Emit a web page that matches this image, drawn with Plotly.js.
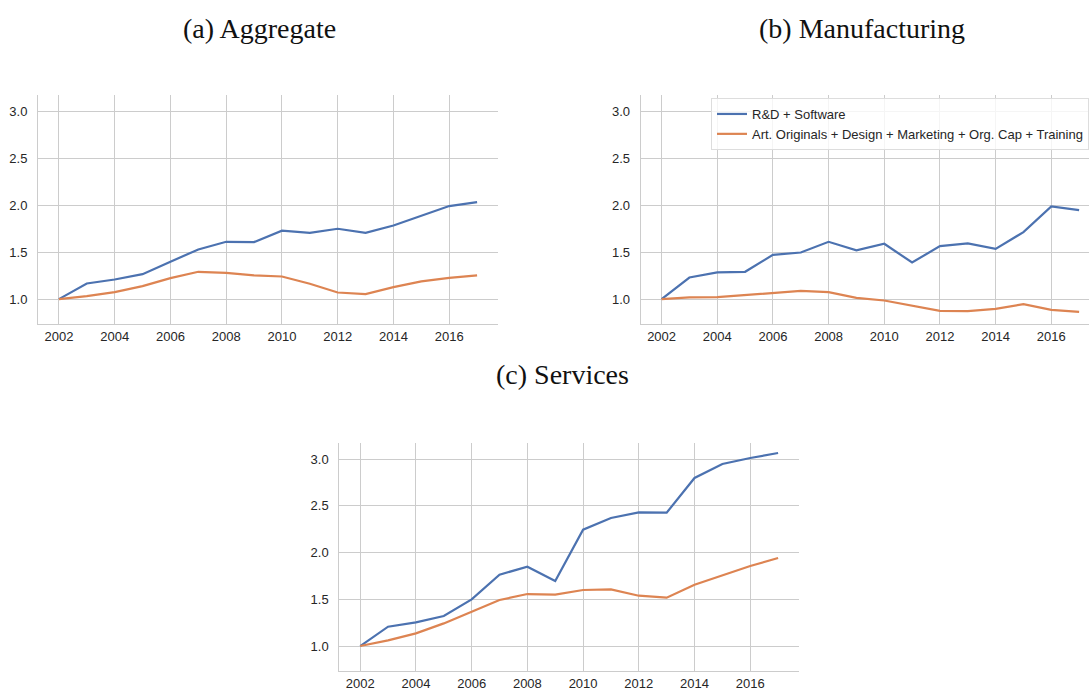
<!DOCTYPE html>
<html>
<head>
<meta charset="utf-8">
<script src="https://cdn.plot.ly/plotly-3.0.1.min.js"></script>
<style>
  html, body { margin: 0; padding: 0; overflow: hidden; background: #fff; }
  #chart { width: 1100px; height: 691px; }
</style>
</head>
<body>
<div id="chart"></div>
<script>
// years on the x axis
const years = [2002, 2003, 2004, 2005, 2006, 2007, 2008, 2009, 2010, 2011, 2012, 2013, 2014, 2015, 2016, 2017];

// (a) Aggregate
const aggRD = [1.0, 1.167, 1.21, 1.267, 1.40, 1.53, 1.612, 1.609, 1.73, 1.708, 1.751, 1.708, 1.786, 1.893, 1.993, 2.036];
const aggOther = [1.0, 1.032, 1.075, 1.139, 1.224, 1.292, 1.281, 1.253, 1.242, 1.164, 1.071, 1.053, 1.128, 1.189, 1.228, 1.253];

// (b) Manufacturing
const manRD = [1.0, 1.231, 1.285, 1.292, 1.473, 1.498, 1.612, 1.520, 1.591, 1.391, 1.566, 1.594, 1.537, 1.715, 1.989, 1.950];
const manOther = [1.0, 1.018, 1.021, 1.046, 1.064, 1.089, 1.075, 1.014, 0.986, 0.932, 0.875, 0.872, 0.897, 0.947, 0.886, 0.865];

// (c) Services
const serRD = [1.0, 1.207, 1.253, 1.321, 1.499, 1.763, 1.848, 1.695, 2.244, 2.369, 2.430, 2.426, 2.797, 2.947, 3.011, 3.064];
const serOther = [1.0, 1.061, 1.135, 1.242, 1.367, 1.492, 1.556, 1.549, 1.599, 1.606, 1.538, 1.517, 1.656, 1.756, 1.856, 1.941];

const seriesNames = ['R&D + Software', 'Art. Originals + Design + Marketing + Org. Cap + Training'];
const panelTitles = ['(a) Aggregate', '(b) Manufacturing', '(c) Services'];
const yTicks = [1.0, 1.5, 2.0, 2.5, 3.0];
const xTicks = [2002, 2004, 2006, 2008, 2010, 2012, 2014, 2016];

const blue = '#4c72b0';
const orange = '#dd8452';
const gridColor = '#cccccc';
const textColor = '#262626';

// the figure is a bit wider than the window, so the right panel gets cut like the original
const W = 1100, H = 691;

const makeTrace = (y, color, name, ax, show) => ({
  x: years,
  y: y,
  type: 'scatter',
  mode: 'lines',
  name: name,
  line: { color: color, width: 2.2 },
  xaxis: 'x' + ax,
  yaxis: 'y' + ax,
  showlegend: show,
  hoverinfo: 'skip'
});

const data = [
  makeTrace(manRD, blue, seriesNames[0], '2', true),
  makeTrace(manOther, orange, seriesNames[1], '2', true),
  makeTrace(aggRD, blue, seriesNames[0], '', false),
  makeTrace(aggOther, orange, seriesNames[1], '', false),
  makeTrace(serRD, blue, seriesNames[0], '3', false),
  makeTrace(serOther, orange, seriesNames[1], '3', false)
];

const tickFont = { family: 'Liberation Sans, Arial, sans-serif', size: 13, color: textColor };

const xAxis = (left, right, anchor) => ({
  domain: [left / W, right / W],
  range: [2001.25, 2017.75],
  tickvals: xTicks,
  ticktext: xTicks.map(String),
  showgrid: true,
  gridcolor: gridColor,
  gridwidth: 1,
  zeroline: false,
  showline: true,
  linecolor: gridColor,
  linewidth: 1,
  ticks: '',
  anchor: anchor,
  tickfont: tickFont,
  fixedrange: true
});

const yAxis = (top, bottom, lo, hi, anchor) => ({
  domain: [1 - bottom / H, 1 - top / H],
  range: [lo, hi],
  tickvals: yTicks,
  ticktext: yTicks.map(v => v.toFixed(1)),
  showgrid: true,
  gridcolor: gridColor,
  gridwidth: 1,
  zeroline: false,
  showline: true,
  linecolor: gridColor,
  linewidth: 1,
  ticks: '',
  ticklabelstandoff: 7,
  anchor: anchor,
  tickfont: tickFont,
  fixedrange: true
});

const titleFont = { family: 'Liberation Serif, Times New Roman, serif', size: 28, color: '#111' };

const panelTitle = (text, cx, cy) => ({
  text: text,
  x: cx / W,
  y: 1 - cy / H,
  xref: 'paper',
  yref: 'paper',
  xanchor: 'center',
  yanchor: 'middle',
  showarrow: false,
  font: titleFont
});

const layout = {
  width: W,
  height: H,
  margin: { l: 0, r: 0, t: 0, b: 0 },
  paper_bgcolor: '#ffffff',
  plot_bgcolor: '#ffffff',
  xaxis: xAxis(38, 498, 'y'),
  yaxis: yAxis(95, 324, 0.735, 3.178, 'x'),
  xaxis2: xAxis(640.7, 1100, 'y2'),
  yaxis2: yAxis(95, 324, 0.735, 3.178, 'x2'),
  xaxis3: xAxis(339.3, 799, 'y3'),
  yaxis3: yAxis(443.3, 671, 0.733, 3.168, 'x3'),
  legend: {
    x: 711 / W,
    y: 1 - 98 / H,
    xanchor: 'left',
    yanchor: 'top',
    bgcolor: 'rgba(255,255,255,0.8)',
    bordercolor: '#dddddd',
    borderwidth: 1,
    tracegroupgap: 0,
    font: { family: 'Liberation Sans, Arial, sans-serif', size: 13, color: textColor }
  },
  annotations: [
    panelTitle(panelTitles[0], 259, 28),
    panelTitle(panelTitles[1], 862, 28),
    panelTitle(panelTitles[2], 562, 374)
  ]
};

Plotly.newPlot('chart', data, layout, { staticPlot: true, displayModeBar: false });
</script>
</body>
</html>
